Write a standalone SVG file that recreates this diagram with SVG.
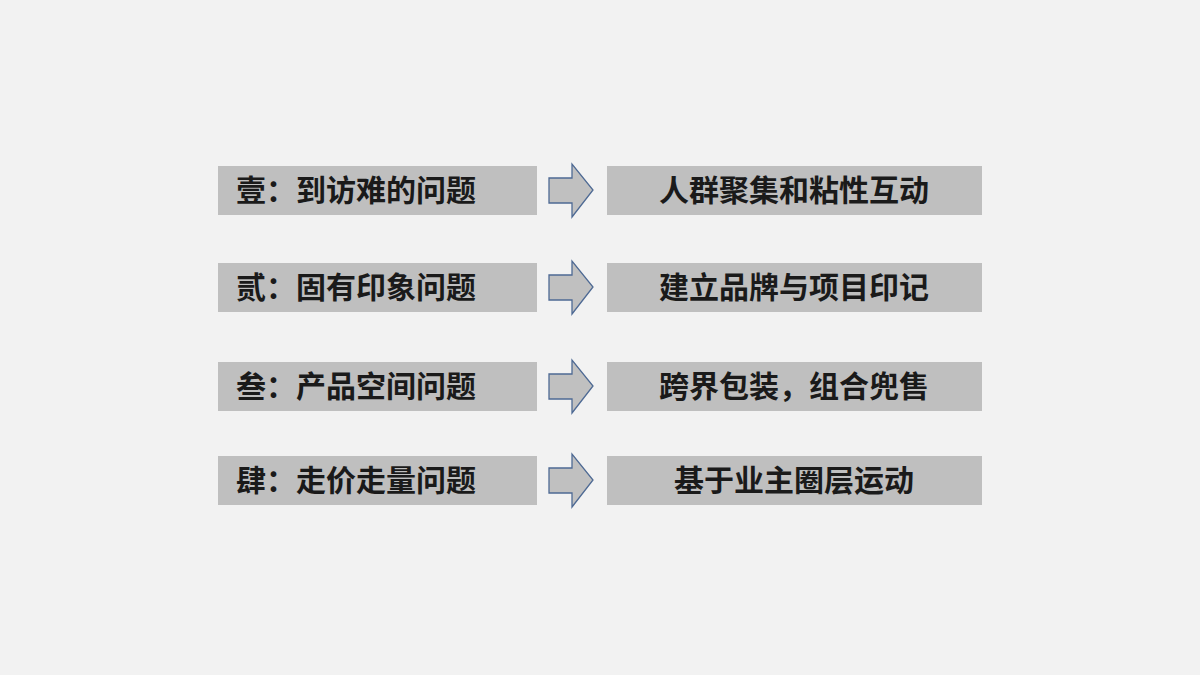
<svg xmlns="http://www.w3.org/2000/svg" width="1200" height="675" viewBox="0 0 1200 675">
<style>
.b{fill:#bfbfbf}
.t{font-family:"Noto Sans CJK SC","Noto Sans",sans-serif;font-size:30px;font-weight:bold;fill:#1a1a1a}
.a{fill:#c0c0c0;stroke:#4e6a94;stroke-width:1.3}
</style>
<defs><path id="ar" class="a" d="M549,-12 H572 V-26 L593,0 L572,27 V13 H549 Z"/></defs>
<rect width="1200" height="675" fill="#f2f2f2"/>
<g id="l1"><rect class="b" x="218" y="166" width="319" height="49"/><text class="t" x="236" y="201">壹：到访难的问题</text></g>
<g id="l2"><rect class="b" x="218" y="263" width="319" height="49"/><text class="t" x="236" y="298">贰：固有印象问题</text></g>
<g id="l3"><rect class="b" x="218" y="362" width="319" height="49"/><text class="t" x="236" y="397">叁：产品空间问题</text></g>
<g id="l4"><rect class="b" x="218" y="456" width="319" height="49"/><text class="t" x="236" y="491">肆：走价走量问题</text></g>
<g id="r1"><rect class="b" x="607" y="166" width="375" height="49"/><text class="t" x="794" y="201" text-anchor="middle">人群聚集和粘性互动</text></g>
<g id="r2"><rect class="b" x="607" y="263" width="375" height="49"/><text class="t" x="794" y="298" text-anchor="middle">建立品牌与项目印记</text></g>
<g id="r3"><rect class="b" x="607" y="362" width="375" height="49"/><text class="t" x="794" y="397" text-anchor="middle">跨界包装，组合兜售</text></g>
<g id="r4"><rect class="b" x="607" y="456" width="375" height="49"/><text class="t" x="794" y="491" text-anchor="middle">基于业主圈层运动</text></g>
<g id="connectors">
<use href="#ar" y="190"/><use href="#ar" y="287"/><use href="#ar" y="386"/><use href="#ar" y="480"/>
</g>
</svg>
